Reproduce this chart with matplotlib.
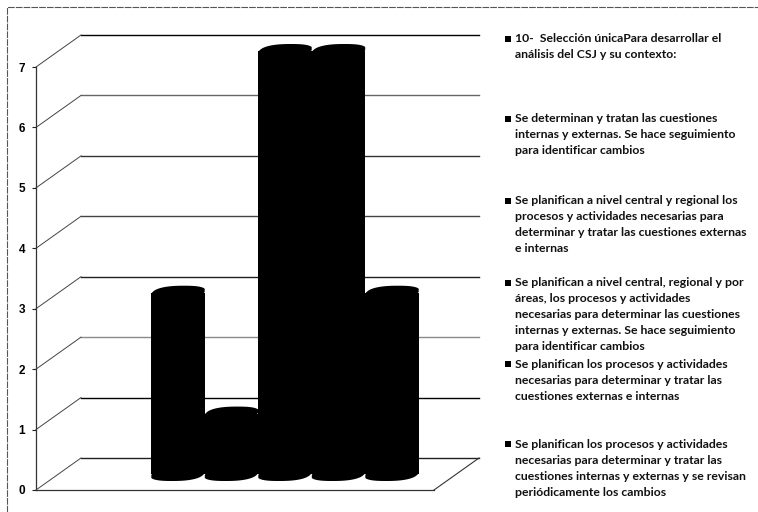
import numpy as np
import matplotlib
matplotlib.use("Agg")
import matplotlib.pyplot as plt

values = [3, 1, 7, 7, 3]
positions = [0, 1, 2, 3, 4]
y_ticks = [0, 1, 2, 3, 4, 5, 6, 7]
grid_colors = ['#222222', '#000000', '#8a8a8a', '#222222', '#444444', '#333333', '#666666', '#000000']
legend_entries = [
    ["10-  Selección únicaPara desarrollar el", "análisis del CSJ y su contexto:"],
    ["Se determinan y tratan las cuestiones", "internas y externas. Se hace seguimiento", "para identificar cambios"],
    ["Se planifican a nivel central y regional los", "procesos y actividades necesarias para", "determinar y tratar las cuestiones externas", "e internas"],
    ["Se planifican a nivel central, regional y por", "áreas, los procesos y actividades", "necesarias para determinar las cuestiones", "internas y externas. Se hace seguimiento", "para identificar cambios"],
    ["Se planifican los procesos y actividades", "necesarias para determinar y tratar las", "cuestiones externas e internas"],
    ["Se planifican los procesos y actividades", "necesarias para determinar y tratar las", "cuestiones internas y externas y se revisan", "periódicamente los cambios"],
]
legend_y_px = [39, 119, 201, 283, 364, 444]

W, H = 758, 512
fig = plt.figure(figsize=(W / 100, H / 100), dpi=100, facecolor='white')

# plot area in pixels
L, R, T, B = 36, 434, 67, 490
ax = fig.add_axes([L / W, 1 - B / H, (R - L) / W, (B - T) / H])
ux, uy = 53.5, (B - T) / 7
ax.set_xlim((L - 178) / ux, (R - 178) / ux)
ax.set_ylim(0, 7)
ax.patch.set_alpha(0)
for s in ('top', 'right'):
    ax.spines[s].set_visible(False)
ax.spines['left'].set_color('#333333')
ax.spines['left'].set_linewidth(0.9)
ax.spines['bottom'].set_color('#333333')
ax.spines['bottom'].set_linewidth(0.9)
ax.set_xticks([])
ax.set_yticks(y_ticks)
ax.tick_params(axis='y', length=3, width=0.8, color='#222222', pad=5)
for lab in ax.get_yticklabels():
    lab.set_fontname('Liberation Sans')
    lab.set_fontweight('bold')
    lab.set_fontsize(8.5)

# depth of the pseudo-3D box, in data units
dx, dy = 45 / ux, 32 / uy
x0, x1 = ax.get_xlim()
for v, c in zip(y_ticks, grid_colors):
    ax.plot([x0 + dx, x1 + dx], [v + dy, v + dy], color=c, lw=1.0, clip_on=False, zorder=1)
    ax.plot([x0, x0 + dx], [v, v + dy], color='#444444', lw=0.7, clip_on=False, zorder=1)
ax.plot([x1, x1 + dx], [0, dy], color='#333333', lw=0.8, clip_on=False, zorder=1)

# cylinders: rounded, slightly skewed end caps
a, c_skew, b = 26 / ux, 6 / ux, 7 / uy
t = np.linspace(0, 2 * np.pi, 240)
half = np.hypot(a, c_skew)
cs, sn = np.cos(t), np.sin(t)
rx = np.sign(cs) * np.abs(cs) ** 0.8
ry = np.sign(sn) * np.abs(sn) ** 0.8
for p, v in zip(positions, values):
    ex = np.clip(a * rx + c_skew * ry, -half, half) + p
    ey = b * ry
    base = dy / 2
    ax.bar(p, v, width=2 * half, bottom=base, color='black', clip_on=False, zorder=3)
    ax.fill(ex, ey + base, color='black', clip_on=False, zorder=3, lw=0)
    ax.fill(ex, ey + base + v, color='black', clip_on=False, zorder=3, lw=0)

# outer frame and legend in figure pixels
ov = fig.add_axes([0, 0, 1, 1], zorder=5)
ov.set_xlim(0, W)
ov.set_ylim(H, 0)
ov.axis('off')
ov.patch.set_alpha(0)
ov.plot([7, 7, W], [H, 7, 7], color='#555555', lw=0.8, ls=(0, (6, 1)))
for lines, y in zip(legend_entries, legend_y_px):
    ov.plot([508], [y], marker='s', ms=4.6, color='black', mew=0)
    for i, line in enumerate(lines):
        ov.text(515, y + i * 16.0, line, fontsize=8.8, fontname='Lato', fontweight='bold',
                va='center', ha='left', color='#111111')

fig.savefig('out.png', dpi=100)
